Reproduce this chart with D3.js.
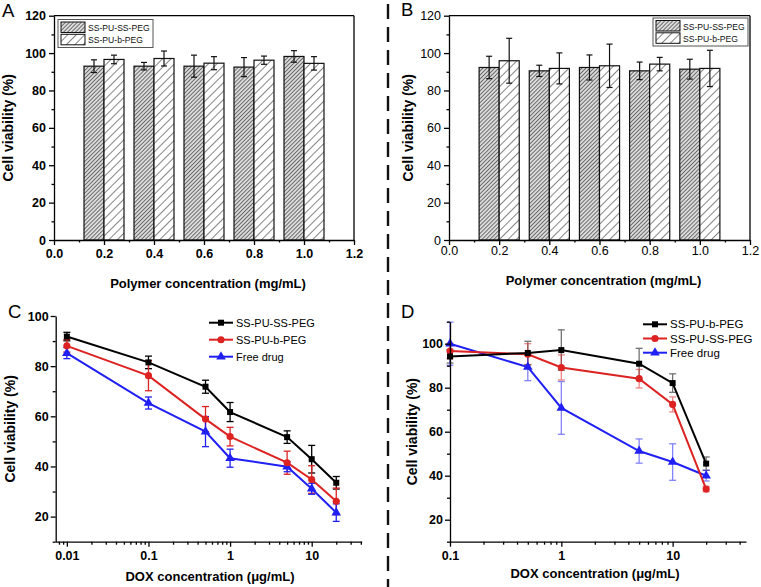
<!DOCTYPE html>
<html><head><meta charset="utf-8">
<script src="https://cdn.jsdelivr.net/npm/d3@7"></script>
<style>
html,body{margin:0;padding:0;background:#fff;}
svg{display:block;font-family:"Liberation Sans",Arial,sans-serif;}
</style></head>
<body>
<svg id="chart" width="761" height="587"></svg>
<script>
// ---------- DATA ----------
const barX = [0.2, 0.4, 0.6, 0.8, 1.0];
const barXTicks = [0.0, 0.2, 0.4, 0.6, 0.8, 1.0, 1.2];
const barYTicks = [0, 20, 40, 60, 80, 100, 120];
const barSeries = ["SS-PU-SS-PEG", "SS-PU-b-PEG"];

const aSS = [93.0, 93.0, 93.0, 92.5, 98.2];
const aSSErr = [3.4, 2.0, 5.9, 5.1, 3.1];
const aB = [96.6, 97.1, 94.6, 96.2, 94.5];
const aBErr = [2.3, 4.0, 3.5, 2.2, 3.6];

const bSS = [92.3, 90.5, 92.3, 90.5, 91.4];
const bSSErr = [6.0, 3.0, 6.7, 4.7, 5.3];
const bB = [95.9, 91.8, 93.2, 94.1, 91.8];
const bBErr = [12.0, 8.3, 11.6, 3.6, 9.7];

const cX = [0.01, 0.1, 0.5, 1, 5, 10, 20];
const cSS = [91.8, 81.5, 71.8, 61.7, 51.7, 42.9, 33.5];
const cSSErr = [1.7, 2.5, 2.6, 3.8, 2.5, 5.5, 2.5];
const cB = [88.1, 76.2, 58.9, 51.9, 41.5, 34.8, 26.1];
const cBErr = [2.5, 6.0, 5.0, 3.7, 4.6, 5.5, 5.3];
const cFree = [85.2, 65.3, 53.9, 43.3, 39.9, 31.1, 21.6];
const cFreeErr = [2.2, 2.4, 6.0, 3.6, 2.0, 2.2, 3.5];
const cXTicks = [0.01, 0.1, 1, 10];
const cYTicks = [20, 40, 60, 80, 100];
const cNames = ["SS-PU-SS-PEG", "SS-PU-b-PEG", "Free drug"];

const dX = [0.1, 0.5, 1, 5, 10, 20];
const dB = [94.2, 95.8, 97.1, 90.9, 82.1, 45.5];
const dBErr = [3.0, 5.3, 9.2, 7.0, 4.2, 3.0];
const dSS = [96.7, 95.2, 89.2, 84.1, 72.4, 33.9];
const dSSErr = [3.5, 4.8, 5.7, 4.2, 3.4, 1.2];
const dFree = [100.0, 89.4, 70.8, 51.2, 46.2, 40.0];
const dFreeErr = [9.8, 6.2, 12.0, 5.5, 8.3, 2.4];
const dXTicks = [0.1, 1, 10];
const dYTicks = [20, 40, 60, 80, 100];
const dNames = ["SS-PU-b-PEG", "SS-PU-SS-PEG", "Free drug"];

const yTitle = "Cell viability (%)";
const barXTitle = "Polymer concentration (mg/mL)";
const lineXTitle = "DOX concentration (\u03bcg/mL)";

// ---------- DRAW ----------
const svg = d3.select("#chart");
const defs = svg.append("defs");
function hatch(id, gap, color, w, bg){
  const p = defs.append("pattern").attr("id", id).attr("patternUnits","userSpaceOnUse")
    .attr("width", gap).attr("height", gap).attr("patternTransform","rotate(45)");
  p.append("rect").attr("width", gap).attr("height", gap).attr("fill", bg);
  p.append("line").attr("x1", 0.5).attr("x2", 0.5).attr("y1", 0).attr("y2", gap)
    .attr("stroke", color).attr("stroke-width", w);
}
hatch("dense", 2.8, "#444", 0.75, "#dcdcdc");
hatch("sparse", 6, "#666", 0.8, "#fff");
const fills = ["url(#dense)", "url(#sparse)"];

// divider
svg.append("line").attr("x1",388).attr("x2",388).attr("y1",4).attr("y2",587)
  .attr("stroke","#111").attr("stroke-width",2.4).attr("stroke-dasharray","15,8");

function styleAxis(g, size, bold){
  g.selectAll("path,line").attr("stroke","#000").attr("stroke-width",1.3);
  g.selectAll("text").attr("font-size", size).attr("font-weight", bold ? "bold" : "normal")
    .attr("fill","#000").attr("font-family","Liberation Sans, Arial, sans-serif");
}

function barPanel(o){
  const x = d3.scaleLinear().domain([0, 1.2]).range([o.left, o.right]);
  const y = d3.scaleLinear().domain([0, 120]).range([o.bottom, o.top]);
  const g = svg.append("g");
  const bw = x(0.08) - x(0);
  const series = [o.s1, o.s2], errs = [o.e1, o.e2];
  series.forEach((s, k) => {
    g.selectAll(null).data(barX).enter().append("rect")
      .attr("x", (d) => x(d) + (k === 0 ? -bw : 0))
      .attr("y", (d, i) => y(s[i]))
      .attr("width", bw).attr("height", (d, i) => y(0) - y(s[i]))
      .attr("fill", fills[k]).attr("stroke", "#111").attr("stroke-width", 1.2);
  });
  series.forEach((s, k) => {
    barX.forEach((d, i) => {
      const cx = x(d) + (k === 0 ? -bw/2 : bw/2);
      const e = errs[k][i];
      g.append("line").attr("x1",cx).attr("x2",cx).attr("y1",y(s[i]+e)).attr("y2",y(s[i]-e))
        .attr("stroke","#111").attr("stroke-width",1.2);
      [s[i]+e, s[i]-e].forEach(v => g.append("line").attr("x1",cx-3).attr("x2",cx+3)
        .attr("y1",y(v)).attr("y2",y(v)).attr("stroke","#111").attr("stroke-width",1.2));
    });
  });
  // minor ticks
  const xm = g.append("g").attr("transform",`translate(0,${o.bottom})`)
    .call(d3.axisBottom(x).tickValues([0.1,0.3,0.5,0.7,0.9,1.1]).tickSize(2.5).tickFormat(""));
  const ym = g.append("g").attr("transform",`translate(${o.left},0)`)
    .call(d3.axisLeft(y).tickValues([10,30,50,70,90,110]).tickSize(2.5).tickFormat(""));
  [xm, ym].forEach(a => { a.select(".domain").remove(); styleAxis(a, 12, o.bold); });
  const xa = g.append("g").attr("transform",`translate(0,${o.bottom})`)
    .call(d3.axisBottom(x).tickValues(barXTicks).tickSize(5).tickSizeOuter(0).tickPadding(o.xpad)
      .tickFormat(d3.format(".1f")));
  const ya = g.append("g").attr("transform",`translate(${o.left},0)`)
    .call(d3.axisLeft(y).tickValues(barYTicks).tickSize(5).tickSizeOuter(0).tickPadding(3));
  styleAxis(xa, 12.5, o.bold); styleAxis(ya, 12.5, o.bold);
  // box
  g.append("line").attr("x1",o.left).attr("x2",o.right).attr("y1",o.top).attr("y2",o.top)
    .attr("stroke","#000").attr("stroke-width",1.3);
  g.append("line").attr("x1",o.right).attr("x2",o.right).attr("y1",o.top).attr("y2",o.bottom)
    .attr("stroke","#000").attr("stroke-width",1.3);
  // legend
  const L = o.leg;
  g.append("rect").attr("x",L.x).attr("y",L.y).attr("width",95).attr("height",28)
    .attr("fill","#fff").attr("stroke","#555").attr("stroke-width",1);
  barSeries.forEach((n, k) => {
    g.append("rect").attr("x",L.x+3).attr("y",L.y+2.5+k*12.3).attr("width",24).attr("height",10.5)
      .attr("fill",fills[k]).attr("stroke","#111").attr("stroke-width",1);
    g.append("text").attr("x",L.x+30).attr("y",L.y+11.5+k*12.3).text(n)
      .attr("font-size",8.6).attr("fill","#111");
  });
  // titles
  g.append("text").attr("transform",`translate(${o.ytx},${(o.top+o.bottom)/2}) rotate(-90)`)
    .attr("text-anchor","middle").attr("font-weight","bold").attr("font-size",14).text(yTitle);
  g.append("text").attr("x",(o.left+o.right)/2 + 4).attr("y",o.xty)
    .attr("text-anchor","middle").attr("font-weight","bold").attr("font-size",13).text(barXTitle);
  g.append("text").attr("x",o.lab[0]).attr("y",o.lab[1]).attr("font-size",18.5).text(o.label);
}

barPanel({left:54, right:354, top:15.7, bottom:240, s1:aSS, s2:aB, e1:aSSErr, e2:aBErr,
  bold:true, xpad:4, leg:{x:58, y:19.5}, ytx:13, xty:287.5, lab:[2,17], label:"A"});
barPanel({left:449, right:750, top:15.7, bottom:240, s1:bSS, s2:bB, e1:bSSErr, e2:bBErr,
  bold:false, xpad:1, leg:{x:653, y:18}, ytx:413, xty:284.5, lab:[401,16], label:"B"});

const markers = {
  square: d3.symbol().type(d3.symbolSquare).size(36),
  circle: d3.symbol().type(d3.symbolCircle).size(40),
  triangle: d3.symbol().type(d3.symbolTriangle).size(40)
};

function linePanel(o){
  const x = d3.scaleLog().domain(o.xdom).range([o.left, o.right]);
  const y = d3.scaleLinear().domain(o.ydom).range([o.bottom, o.top]);
  const g = svg.append("g");
  const line = d3.line().x(d => x(d[0])).y(d => y(d[1]));
  // error bars first
  o.series.forEach(s => {
    o.xs.forEach((xv, i) => {
      const cx = x(xv), v = s.vals[i], e = s.err[i];
      const eg = g.append("g").attr("stroke", s.color).attr("stroke-width",1.3).attr("opacity", o.errOp);
      eg.append("line").attr("x1",cx).attr("x2",cx).attr("y1",y(v+e)).attr("y2",y(v-e));
      [v+e, v-e].forEach(t => eg.append("line").attr("x1",cx-3.5).attr("x2",cx+3.5).attr("y1",y(t)).attr("y2",y(t)));
    });
  });
  o.series.slice().reverse().forEach(s => {
    g.append("path").datum(o.xs.map((xv,i)=>[xv, s.vals[i]])).attr("d", line)
      .attr("fill","none").attr("stroke", s.color).attr("stroke-width",2);
    g.selectAll(null).data(o.xs).enter().append("path")
      .attr("d", markers[s.marker]).attr("fill", s.color)
      .attr("transform",(d,i)=>`translate(${x(d)},${y(s.vals[i])})`);
  });
  // axes
  const minors = [];
  for (let p = -3; p <= 2; p++) for (let m = 2; m <= 9; m++) {
    const v = m * Math.pow(10, p);
    if (v >= o.xdom[0] && v <= o.xdom[1]) minors.push(v);
  }
  const xm = g.append("g").attr("transform",`translate(0,${o.bottom})`)
    .call(d3.axisBottom(x).tickValues(minors).tickSize(3).tickFormat(""));
  const ymv = d3.range(o.ydom[0], o.ydom[1]+1, 10).filter(v => v % 20 !== 0);
  const ym = g.append("g").attr("transform",`translate(${o.left},0)`)
    .call(d3.axisLeft(y).tickValues(ymv).tickSize(3).tickFormat(""));
  [xm, ym].forEach(a => { a.select(".domain").remove(); styleAxis(a, 12, true); });
  const xa = g.append("g").attr("transform",`translate(0,${o.bottom})`)
    .call(d3.axisBottom(x).tickValues(o.xticks).tickSize(5).tickSizeOuter(0).tickPadding(4)
      .tickFormat(d => String(d)));
  const ya = g.append("g").attr("transform",`translate(${o.left},0)`)
    .call(d3.axisLeft(y).tickValues(o.yticks).tickSize(5).tickSizeOuter(0).tickPadding(2));
  styleAxis(xa, 12.5, true); styleAxis(ya, 12.5, true);
  // legend
  o.series.forEach((s, k) => {
    const ly = o.leg.y + k * o.leg.dy;
    g.append("line").attr("x1",o.leg.x).attr("x2",o.leg.x+24).attr("y1",ly).attr("y2",ly)
      .attr("stroke", s.color).attr("stroke-width",2);
    g.append("path").attr("d", markers[s.marker]).attr("fill", s.color)
      .attr("transform",`translate(${o.leg.x+12},${ly})`);
    g.append("text").attr("x",o.leg.x+27).attr("y",ly+4).attr("font-size",o.leg.fs).text(s.name);
  });
  g.append("text").attr("transform",`translate(${o.ytx},${(o.top+o.bottom)/2}) rotate(-90)`)
    .attr("text-anchor","middle").attr("font-weight","bold").attr("font-size",14).text(yTitle);
  g.append("text").attr("x",o.xtx).attr("y",o.xty)
    .attr("text-anchor","middle").attr("font-weight","bold").attr("font-size",13).text(lineXTitle);
  g.append("text").attr("x",o.lab[0]).attr("y",o.lab[1]).attr("font-size",18.5).text(o.label);
}

const BLACK = "#000", RED = "#dd2222", BLUE = "#2020f5";
linePanel({left:55.7, right:361.7, top:316, bottom:541.7, xdom:[0.0073, 41], ydom:[10,100],
  xs:cX, xticks:cXTicks, yticks:cYTicks, errOp:1,
  series:[
    {name:cNames[0], vals:cSS, err:cSSErr, color:BLACK, marker:"square"},
    {name:cNames[1], vals:cB, err:cBErr, color:RED, marker:"circle"},
    {name:cNames[2], vals:cFree, err:cFreeErr, color:BLUE, marker:"triangle"}],
  leg:{x:209, y:322.7, dy:17, fs:11}, ytx:15, xtx:210, xty:581, lab:[8,318], label:"C"});
linePanel({left:450, right:746, top:321.7, bottom:541.7, xdom:[0.1, 45.6], ydom:[10,110],
  xs:dX, xticks:dXTicks, yticks:dYTicks, errOp:0.55,
  series:[
    {name:dNames[0], vals:dB, err:dBErr, color:BLACK, marker:"square"},
    {name:dNames[1], vals:dSS, err:dSSErr, color:RED, marker:"circle"},
    {name:dNames[2], vals:dFree, err:dFreeErr, color:BLUE, marker:"triangle"}],
  leg:{x:643, y:324.3, dy:14.2, fs:11.5}, ytx:417, xtx:595, xty:578, lab:[401,318], label:"D"});
</script>
</body></html>
